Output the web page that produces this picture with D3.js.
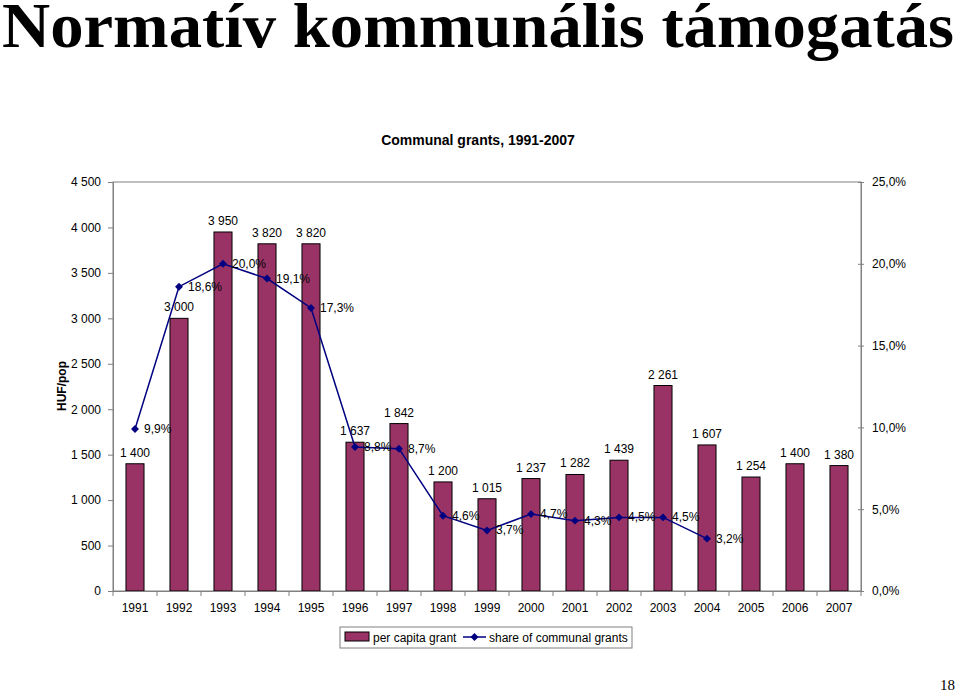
<!DOCTYPE html>
<html><head><meta charset="utf-8">
<script src="https://cdn.jsdelivr.net/npm/d3@7"></script>
<style>body{margin:0;background:#fff}svg{display:block}</style>
</head><body>
<svg id="c" width="960" height="694"></svg>
<script>
const years = ["1991","1992","1993","1994","1995","1996","1997","1998","1999","2000","2001","2002","2003","2004","2005","2006","2007"];
const perCapita = [1400,3000,3950,3820,3820,1637,1842,1200,1015,1237,1282,1439,2261,1607,1254,1400,1380];
const shareYears = ["1991","1992","1993","1994","1995","1996","1997","1998","1999","2000","2001","2002","2003","2004"];
const share = [9.9,18.6,20.0,19.1,17.3,8.8,8.7,4.6,3.7,4.7,4.3,4.5,4.5,3.2];
const leftTicks = [0,500,1000,1500,2000,2500,3000,3500,4000,4500];
const rightTicks = [0,5,10,15,20,25];

const svg = d3.select("#c");
const L=113, R=861, T=182, B=591;
const font="Arial, 'Liberation Sans', sans-serif";
const fmtN = v => d3.format(",")(v).replace(/,/g," ");
const fmtP = v => v.toFixed(1).replace(".",",")+"%";

// Main title
svg.append("text").attr("x",2).attr("y",47)
  .attr("font-family","'Liberation Serif','Times New Roman',serif")
  .attr("font-weight","bold").attr("font-size",64)
  .attr("textLength",952).attr("lengthAdjust","spacingAndGlyphs")
  .text("Normatív kommunális támogatás");

svg.append("text").attr("x",478).attr("y",145).attr("text-anchor","middle")
  .attr("font-family",font).attr("font-weight","bold").attr("font-size",14)
  .text("Communal grants, 1991-2007");

const x = d3.scaleBand().domain(years).range([L,R]).paddingInner(0.59).paddingOuter(0.295);
const xb = d3.scaleBand().domain(years).range([L,R]);
const y = d3.scaleLinear().domain([0,4500]).range([B,T]);
const y2 = d3.scaleLinear().domain([0,25]).range([B,T]);

// plot border
svg.append("rect").attr("x",L).attr("y",T).attr("width",R-L).attr("height",B-T)
  .attr("fill","none").attr("stroke","#808080").attr("stroke-width",1);

// bars
svg.append("g").selectAll("rect").data(perCapita).join("rect")
  .attr("x",(d,i)=>x(years[i])).attr("width",x.bandwidth())
  .attr("y",d=>y(d)).attr("height",d=>B-y(d))
  .attr("fill","#993366").attr("stroke","#000").attr("stroke-width",1);

svg.append("g").selectAll("text").data(perCapita).join("text")
  .attr("x",(d,i)=>xb(years[i])+xb.bandwidth()/2).attr("y",d=>y(d)-7)
  .attr("text-anchor","middle").attr("font-family",font).attr("font-size",12)
  .text(d=>fmtN(d));

// axes
const gl = svg.append("g").attr("transform",`translate(${L},0)`)
  .call(d3.axisLeft(y).tickValues(leftTicks).tickSize(5).tickPadding(7).tickFormat(fmtN));
const gr = svg.append("g").attr("transform",`translate(${R},0)`)
  .call(d3.axisRight(y2).tickValues(rightTicks).tickSize(3).tickPadding(8).tickFormat(fmtP));
gr.selectAll(".tick line").attr("x1",-3);
const gx = svg.append("g").attr("transform",`translate(0,${B})`)
  .call(d3.axisBottom(xb).tickSize(0).tickPadding(12));
[gl,gr,gx].forEach(g=>{
  g.selectAll("path").attr("stroke","#808080");
  g.selectAll("line").attr("stroke","#808080");
  g.selectAll("text").attr("font-family",font).attr("font-size",12).attr("fill","#000");
});
// x category ticks
svg.append("g").selectAll("line").data(years.concat(["end"])).join("line")
  .attr("x1",(d,i)=>L+i*xb.bandwidth()).attr("x2",(d,i)=>L+i*xb.bandwidth())
  .attr("y1",B).attr("y2",B+5).attr("stroke","#808080");

// y axis title
svg.append("text").attr("transform","translate(66,386) rotate(-90)")
  .attr("text-anchor","middle").attr("font-family",font).attr("font-weight","bold").attr("font-size",12)
  .text("HUF/pop");

// line
const cx = d => xb(d)+xb.bandwidth()/2;
const line = d3.line().x((d,i)=>cx(shareYears[i])).y(d=>y2(d));
svg.append("path").datum(share).attr("d",line).attr("fill","none")
  .attr("stroke","#000080").attr("stroke-width",1.5);
const diamond = d3.symbol().type(d3.symbolDiamond2).size(40);
svg.append("g").selectAll("path").data(share).join("path")
  .attr("transform",(d,i)=>`translate(${cx(shareYears[i])},${y2(d)})`)
  .attr("d",diamond).attr("fill","#000080");
svg.append("g").selectAll("text").data(share).join("text")
  .attr("x",(d,i)=>cx(shareYears[i])+9).attr("y",d=>y2(d)+4)
  .attr("font-family",font).attr("font-size",12).text(d=>fmtP(d));

// legend
const lg = svg.append("g");
lg.append("rect").attr("x",340).attr("y",627).attr("width",292).attr("height",21)
  .attr("fill","#fff").attr("stroke","#808080");
lg.append("rect").attr("x",345).attr("y",632).attr("width",24).attr("height",9)
  .attr("fill","#993366").attr("stroke","#000");
lg.append("text").attr("x",373).attr("y",642).attr("font-family",font).attr("font-size",12).text("per capita grant");
lg.append("line").attr("x1",463).attr("x2",486).attr("y1",637).attr("y2",637).attr("stroke","#000080").attr("stroke-width",1.5);
lg.append("path").attr("transform","translate(474.5,637)").attr("d",diamond).attr("fill","#000080");
lg.append("text").attr("x",489).attr("y",642).attr("font-family",font).attr("font-size",12).text("share of communal grants");

// page number
svg.append("text").attr("x",955).attr("y",690).attr("text-anchor","end")
  .attr("font-family","'Liberation Serif','Times New Roman',serif").attr("font-size",15).text("18");
</script>
</body></html>
